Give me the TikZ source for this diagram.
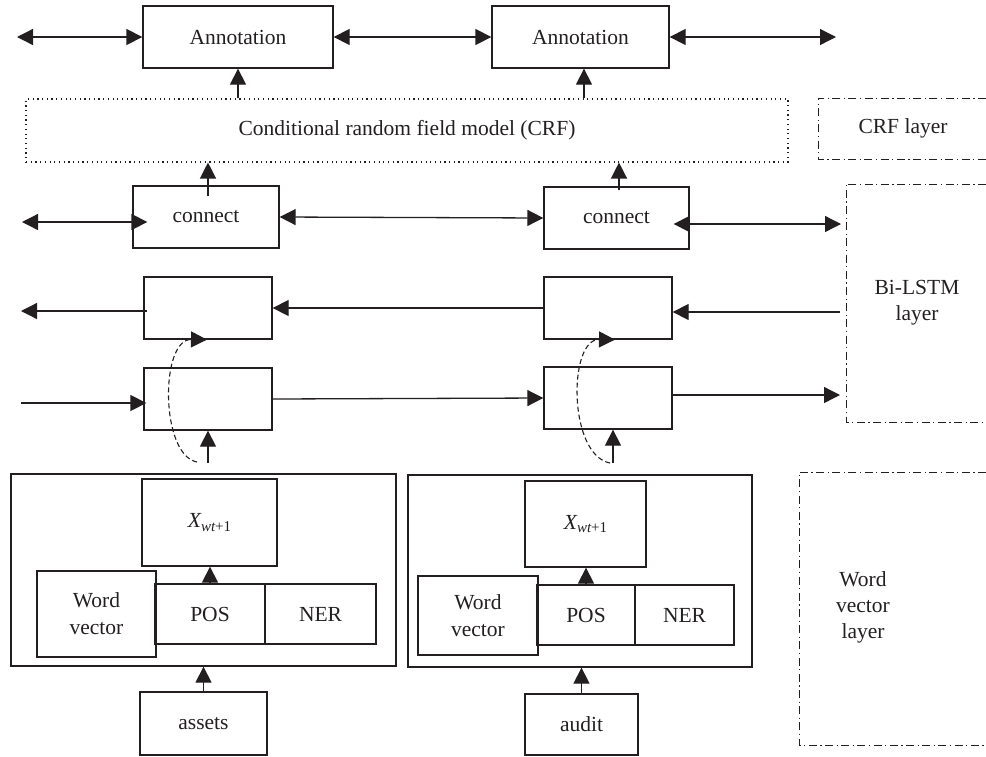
\documentclass[tikz,border=0pt]{standalone}
\usepackage{fontspec}
\setmainfont{Liberation Serif}
\usetikzlibrary{arrows.meta}
\definecolor{ink}{HTML}{231F20}
\begin{document}
\begin{tikzpicture}[x=1pt,y=-1pt,
  box/.style={draw=ink, line width=1.3pt, rectangle, inner sep=0pt, text=ink, align=center,
    font=\fontsize{21.5}{27}\selectfont},
  lbl/.style={text=ink, align=center, inner sep=0pt, font=\fontsize{21.5}{26}\selectfont},
  conn/.style={draw=ink, line width=1.3pt, -{Triangle[length=16pt,width=16pt]}},
  dconn/.style={draw=ink, line width=1.3pt, {Triangle[length=16pt,width=16pt]}-{Triangle[length=16pt,width=16pt]}},
  loopconn/.style={draw=ink, line width=1.1pt, dash pattern=on 5pt off 3pt, -{Triangle[length=16pt,width=16pt]}},
  layer/.style={draw=ink, line width=0.8pt, dash pattern=on 8pt off 3.5pt on 1.2pt off 3.5pt},
  crfstyle/.style={draw=ink, line width=1.1pt, dash pattern=on 1.2pt off 3.5pt, rectangle, inner sep=0pt,
    text=ink, font=\fontsize{21.5}{27}\selectfont}
]
\useasboundingbox (0,0) rectangle (986,756);

% top annotations
\node[box, minimum width=190pt, minimum height=62pt] (a1) at (238,37) {Annotation};
\node[box, minimum width=177pt, minimum height=62pt] (a2) at (580.5,37) {Annotation};
\coordinate (l1) at (17,37);
\coordinate (r1) at (836,37);
\draw[dconn] (l1) -- (a1.west);
\draw[dconn] (a1.east) -- (a2.west);
\draw[dconn] (a2.east) -- (r1);

% CRF
\node[crfstyle, minimum width=762pt, minimum height=63pt] (crf) at (407,130.5) {Conditional random field model (CRF)};
\draw[conn] (a1.south |- crf.north) -- (a1.south);
\draw[conn] ([xshift=3.5pt]a2.south |- crf.north) -- ([xshift=3.5pt]a2.south);

% CRF layer
\draw[layer] (986,98) -- (818,98) -- (818,159) -- (986,159);
\node[lbl] (crfl) at (903,128) {CRF layer};

% connect
\node[box, minimum width=146pt, minimum height=62pt] (c1) at (206,217) {connect};
\node[box, minimum width=145pt, minimum height=62pt] (c2) at (616.5,218) {connect};
\draw[conn] ([xshift=2pt,yshift=-11pt]c1.north) -- ([xshift=2pt]c1.north |- crf.south);
\draw[conn] ([xshift=2.5pt,yshift=-4pt]c2.north) -- ([xshift=2.5pt]c2.north |- crf.south);
\coordinate (cl) at (22,222);
\coordinate (cr) at (841,224);
\draw[dconn, shorten >=-15pt] (cl) -- (cl -| c1.west);
\draw[dconn] (c1.east) -- (c2.west);
\draw[dconn, shorten <=-16pt] (cr -| c2.east) -- (cr);

% Bi-LSTM layer
\draw[layer] (986,184) -- (846,184) -- (846,422) -- (986,422);
\node[lbl] (bil) at (917,303) {Bi-LSTM\\layer};

% LSTM cells
\node[box, minimum width=128pt, minimum height=62pt] (b1) at (208,308) {};
\node[box, minimum width=128pt, minimum height=62pt] (b2) at (608,308) {};
\node[box, minimum width=128pt, minimum height=62pt] (f1) at (208,399) {};
\node[box, minimum width=128pt, minimum height=62pt] (f2) at (608,398) {};

\coordinate (br) at (840,312);
\draw[conn] (br) -- (br -| b2.east);
\draw[conn] (b2.west) -- (b1.east);
\coordinate (bl) at (21,311);
\draw[conn, shorten <=-4pt] (bl -| b1.west) -- (bl);

\coordinate (fl) at (21,403);
\draw[conn, shorten >=-3pt] (fl) -- (fl -| f1.west);
\draw[conn] (f1.east) -- (f2.west);
\coordinate (fr) at (840,395);
\draw[conn] (fr -| f2.east) -- (fr);

% inputs to forward cells and loops
\coordinate (u1) at (208,463);
\coordinate (u2) at (613,463);
\draw[conn] (u1) -- (u1 |- f1.south);
\draw[conn] (u2) -- (u2 |- f2.south);
\coordinate (s1) at (197,462);
\coordinate (s2) at (610,463);
\draw[loopconn] (s1) .. controls (160,455) and (160,339) .. ([xshift=-1pt]b1.south);
\draw[loopconn] (s2) .. controls (568,455) and (568,339) .. ([xshift=7pt]b2.south);

% word vector blocks
\node[box, minimum width=385pt, minimum height=192pt] (o1) at (203.5,570) {};
\node[box, minimum width=344pt, minimum height=192pt] (o2) at (580,571) {};

\node[box, minimum width=135pt, minimum height=87pt] (x1) at (209.5,522.5)
  {{\itshape X}\raisebox{-0.4ex}{\fontsize{15}{15}\selectfont\itshape wt\upshape +1}};
\node[box, minimum width=121pt, minimum height=86pt] (x2) at (585.5,524)
  {{\itshape X}\raisebox{-0.4ex}{\fontsize{15}{15}\selectfont\itshape wt\upshape +1}};

\node[box, minimum width=119pt, minimum height=86pt] (wv1) at (96.5,614) {Word\\vector};
\node[box, minimum width=110pt, minimum height=60pt] (pos1) at (210,614) {POS};
\node[box, minimum width=111pt, minimum height=60pt] (ner1) at (320.5,614) {NER};

\node[box, minimum width=120pt, minimum height=79pt] (wv2) at (478,615.5) {Word\\vector};
\node[box, minimum width=98pt, minimum height=60pt] (pos2) at (586,615) {POS};
\node[box, minimum width=99pt, minimum height=60pt] (ner2) at (684.5,615) {NER};

\draw[conn] (pos1.north) -- (pos1.north |- x1.south);
\draw[conn] (pos2.north) -- (pos2.north |- x2.south);

\node[box, minimum width=127pt, minimum height=63pt] (assets) at (203.5,723.5) {assets};
\node[box, minimum width=113pt, minimum height=61pt] (audit) at (581.5,724.5) {audit};
\draw[conn] (assets.north) -- (assets.north |- o1.south);
\draw[conn] (audit.north) -- (audit.north |- o2.south);

% Word vector layer
\draw[layer] (986,472) -- (799,472) -- (799,745) -- (986,745);
\node[lbl] (wvl) at (863,607) {Word\\vector\\layer};
\end{tikzpicture}
\end{document}
